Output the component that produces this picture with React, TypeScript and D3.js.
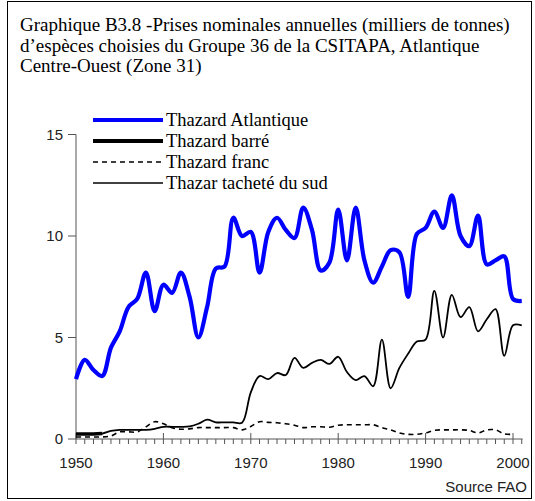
import React from "react";
import * as d3 from "d3";

const years: number[] = d3.range(1950, 2002);

const atlantique: (number | null)[] = [
  2.95, 3.9, 3.4, 3.1, 4.5, 5.3, 6.5, 6.9, 8.2, 6.3,
  7.6, 7.2, 8.2, 7.0, 5.0, 6.5, 8.4, 8.5, 10.9, 10.0,
  10.2, 8.2, 10.2, 10.9, 10.3, 9.9, 11.4, 10.3, 8.3, 8.7,
  11.3, 8.8, 11.4, 8.8, 7.7, 8.5, 9.3, 9.2, 7.0, 10.1,
  10.4, 11.2, 10.4, 12.0, 10.0, 9.5, 11.0, 8.6, 8.8, 9.0,
  6.9, 6.8,
];

const barre: (number | null)[] = [
  0.25, 0.25, 0.25, 0.27, null, null, null, null, null, null,
  null, null, null, null, null, null, null, null, null, null,
  null, null, null, null, null, null, null, null, null, null,
  null, null, null, null, null, null, null, null, null, null,
  null, null, null, null, null, null, null, null, null, null,
  null, null,
];

const franc: (number | null)[] = [
  0.1, 0.1, 0.1, 0.1, 0.15, 0.35, 0.35, 0.35, 0.6, 0.85,
  0.75, 0.55, 0.48, 0.5, 0.56, 0.56, 0.56, 0.56, 0.56, 0.45,
  0.62, 0.85, 0.82, 0.8, 0.75, 0.68, 0.56, 0.6, 0.6, 0.58,
  0.68, 0.7, 0.7, 0.7, 0.7, 0.56, 0.45, 0.3, 0.23, 0.23,
  0.3, 0.43, 0.45, 0.45, 0.45, 0.42, 0.3, 0.45, 0.45, 0.25,
  0.23, null,
];

const tachete: (number | null)[] = [
  0.25, 0.25, 0.25, 0.27, 0.4, 0.45, 0.45, 0.45, 0.45, 0.5,
  0.6, 0.6, 0.6, 0.62, 0.75, 0.95, 0.82, 0.82, 0.82, 0.8,
  2.3, 3.1, 2.95, 3.25, 3.15, 4.0, 3.5, 3.75, 3.9, 3.7,
  4.05, 3.3, 2.9, 3.1, 2.6, 4.9, 2.5, 3.5, 4.2, 4.8,
  4.9, 7.3, 5.0, 7.1, 6.0, 6.5, 5.3, 5.9, 6.4, 4.1,
  5.6, 5.6,
];

const seriesNames = [
  "Thazard Atlantique",
  "Thazard barré",
  "Thazard franc",
  "Thazar tacheté du sud",
];

const yTicks = [0, 5, 10, 15];
const xMajor = [1950, 1960, 1970, 1980, 1990, 2000];
const titleLines = [
  "Graphique B3.8 -Prises nominales annuelles (milliers de tonnes)",
  "d\u2019esp\u00e8ces choisies du Groupe 36 de la CSITAPA, Atlantique",
  "Centre-Ouest (Zone 31)",
];

export default function App() {
  const W = 535;
  const H = 501;
  const x = d3.scaleLinear().domain([1950, 2000]).range([76, 513]);
  const y = d3.scaleLinear().domain([0, 15]).range([439, 134.5]);

  const mk = (vals: (number | null)[]) =>
    d3
      .line<number>()
      .defined((_, i) => vals[i] != null)
      .x((d) => x(d))
      .y((_, i) => y(vals[i] as number))
      .curve(d3.curveCatmullRom.alpha(0.5))(years) || "";

  const styles = [
    { data: atlantique, stroke: "#0000ff", width: 4.2, dash: "" },
    { data: barre, stroke: "#000", width: 3.5, dash: "" },
    { data: franc, stroke: "#000", width: 1.6, dash: "5,4" },
    { data: tachete, stroke: "#000", width: 1.8, dash: "" },
  ];

  const axisColor = "#555";
  const sans = "'Liberation Sans', Arial, sans-serif";
  const serif = "'Liberation Serif', 'Times New Roman', serif";

  return (
    <svg
      width={W}
      height={H}
      style={{ position: "absolute", left: 0, top: 0, background: "#fff" }}
    >
      <rect x={7.5} y={1.5} width={524} height={497} fill="#fff" stroke="#000" strokeWidth={1} />
      {titleLines.map((t, i) => (
        <text key={i} x={20} y={31 + i * 20.5} fontFamily={serif} fontSize={19} fill="#000">
          {t}
        </text>
      ))}

      {/* y axis */}
      <line x1={76} x2={76} y1={y(15)} y2={y(0)} stroke={axisColor} strokeWidth={1} />
      {yTicks.map((t) => (
        <g key={t}>
          <line x1={68} x2={76} y1={y(t)} y2={y(t)} stroke={axisColor} strokeWidth={1} />
          <text x={63} y={y(t) + 5} textAnchor="end" fontFamily={sans} fontSize={15} fill="#222">
            {t}
          </text>
        </g>
      ))}

      {/* x axis */}
      <line x1={76} x2={x(2001.1)} y1={y(0)} y2={y(0)} stroke={axisColor} strokeWidth={1} />
      {years.map((yr) => (
        <line
          key={yr}
          x1={x(yr)}
          x2={x(yr)}
          y1={yr % 10 === 0 ? y(0) - 6 : y(0)}
          y2={y(0) + 5}
          stroke={axisColor}
          strokeWidth={1}
        />
      ))}
      {xMajor.map((yr) => (
        <text key={yr} x={x(yr)} y={468} textAnchor="middle" fontFamily={sans} fontSize={15} fill="#222">
          {yr}
        </text>
      ))}

      {/* series */}
      {styles.map((s, i) => (
        <path
          key={i}
          d={mk(s.data)}
          fill="none"
          stroke={s.stroke}
          strokeWidth={s.width}
          strokeDasharray={s.dash}
          strokeLinejoin="round"
        />
      ))}

      {/* legend */}
      {seriesNames.map((n, i) => {
        const ly = 120 + i * 21;
        const s = styles[i];
        return (
          <g key={n}>
            <line
              x1={93}
              x2={163}
              y1={ly}
              y2={ly}
              stroke={s.stroke}
              strokeWidth={i === 0 ? 4 : i === 1 ? 4 : 1.6}
              strokeDasharray={s.dash}
            />
            <text x={166} y={ly + 6} fontFamily={serif} fontSize={18.5} fill="#000">
              {n}
            </text>
          </g>
        );
      })}

      <text x={527} y={492} textAnchor="end" fontFamily={sans} fontSize={15} fill="#222">
        Source FAO
      </text>
    </svg>
  );
}
